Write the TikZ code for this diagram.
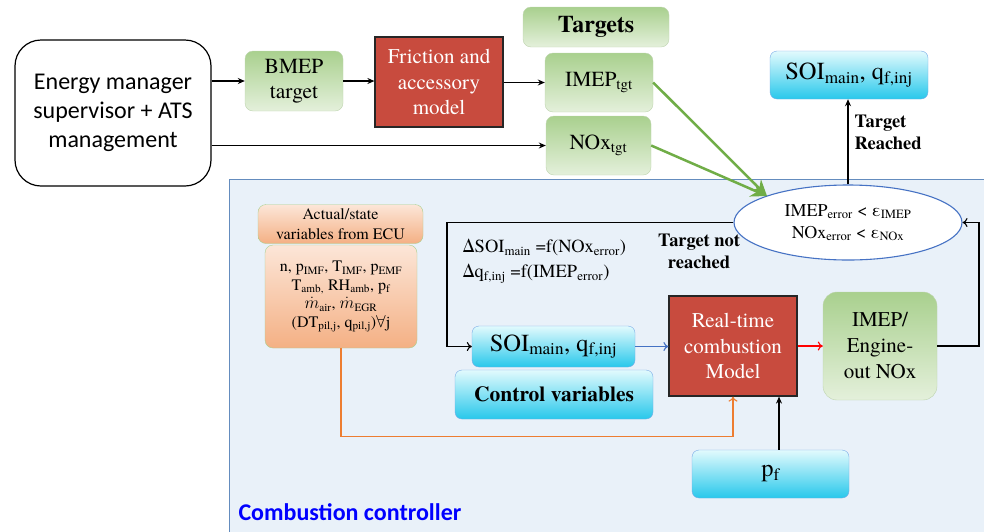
\documentclass[tikz,border=0pt]{standalone}
\usepackage{fontspec}
\setmainfont{texgyretermes}[Extension=.otf,UprightFont=*-regular,BoldFont=*-bold,ItalicFont=*-italic,BoldItalicFont=*-bolditalic]
\newfontfamily\calibri{Carlito}
\usepackage{tikz}
\usetikzlibrary{arrows.meta,shapes.geometric}

\definecolor{bgblue}{RGB}{233,241,249}
\definecolor{bgline}{RGB}{100,140,190}
\definecolor{greentop}{RGB}{169,208,142}
\definecolor{greenbot}{RGB}{228,240,219}
\definecolor{greenline}{RGB}{190,212,175}
\definecolor{cyantop}{RGB}{226,250,253}
\definecolor{cyanbot}{RGB}{40,200,235}
\definecolor{cyanline}{RGB}{120,170,230}
\definecolor{orangetop}{RGB}{252,230,216}
\definecolor{orangebot}{RGB}{244,176,132}
\definecolor{modelred}{RGB}{200,75,62}
\definecolor{ellline}{RGB}{70,114,196}
\definecolor{arrgreen}{RGB}{112,173,71}
\definecolor{arrblue}{RGB}{68,114,196}
\definecolor{arrorange}{RGB}{237,125,49}

\tikzset{
  greenbox/.style={draw=greenline,top color=greentop,bottom color=greenbot,rounded corners=8pt,
    inner sep=0pt,align=center,font=\fontsize{21.5}{25}\selectfont},
  cyanbox/.style={draw=cyanline,top color=cyantop,bottom color=cyanbot,rounded corners=7pt,
    inner sep=0pt,align=center,font=\fontsize{24.5}{28}\selectfont},
  orangebox/.style={draw=greentop,top color=orangetop,bottom color=orangebot,rounded corners=8pt,
    inner sep=0pt,align=center,font=\fontsize{16}{19.5}\selectfont},
  redbox/.style={draw=black!85,line width=1.2pt,fill=modelred,text=white,inner sep=0pt,
    align=center,font=\fontsize{21}{25.5}\selectfont},
  arr/.style={-{Stealth[length=7pt,width=6pt]},line width=1.3pt},
  openarr/.style={-{To[length=5pt,width=9pt]},line width=1.1pt},
  greenarr/.style={-{Stealth[length=16pt,width=15pt]},line width=2.5pt,draw=arrgreen},
  note/.style={font=\fontsize{18.5}{22}\selectfont\bfseries,align=center}
}

\begin{document}
\begin{tikzpicture}[x=1pt,y=-1pt]
\useasboundingbox (0,0) rectangle (984,531);
% combustion controller area
\draw[draw=bgline,fill=bgblue,line width=1pt] (229,179) rectangle (990,540);
\node[anchor=west,text=blue,font=\calibri\fontsize{24}{28}\selectfont\bfseries] (title) at (235,512) {Combustion controller};

% upper row
\node[draw,line width=1.2pt,rounded corners=26pt,minimum width=196pt,minimum height=146pt,inner sep=0pt,
  align=center,font=\calibri\fontsize{24}{29}\selectfont] (energy) at (113,113)
  {Energy manager\\supervisor + ATS\\management};
\node[greenbox,minimum width=98pt,minimum height=60pt] (bmep) at (294,81) {BMEP\\target};
\node[redbox,minimum width=128pt,minimum height=90pt] (friction) at (439,82) {Friction and\\accessory\\model};
\node[greenbox,minimum width=146pt,minimum height=40pt,font=\fontsize{24}{28}\selectfont\bfseries] (targets) at (596,27) {Targets};
\node[greenbox,minimum width=108pt,minimum height=59pt] (imep) at (599,82.5) {IMEP\textsubscript{tgt}};
\node[greenbox,minimum width=105pt,minimum height=59pt] (nox) at (598.5,145.5) {NOx\textsubscript{tgt}};
\node[cyanbox,minimum width=158pt,minimum height=48pt] (soitop) at (849,75) {SOI\textsubscript{main}, q\textsubscript{f,inj}};
\node[note,anchor=west,align=left] (reached) at (851,132) {Target\\Reached};

% controller blocks
\node[ellipse,draw=ellline,line width=1.1pt,fill=white,minimum width=228pt,minimum height=75pt,inner sep=0pt,
  align=center,font=\fontsize{18}{22}\selectfont] (check) at (848,222.5)
  {IMEP\textsubscript{error} < ε\textsubscript{IMEP}\\NOx\textsubscript{error} < ε\textsubscript{NOx}};
\node[orangebox,minimum width=165pt,minimum height=39pt] (actual) at (340.5,224) {Actual/state\\variables from ECU};
\node[orangebox,minimum width=152pt,minimum height=103pt,font=\fontsize{16}{18.5}\selectfont] (vars) at (341,296.5)
  {n, p\textsubscript{IMF}, T\textsubscript{IMF}, p\textsubscript{EMF}\\
   T\textsubscript{amb,} RH\textsubscript{amb}, p\textsubscript{f}\\
   $\dot{m}$\textsubscript{air}, $\dot{m}$\textsubscript{EGR}\\
   (DT\textsubscript{pil,j}, q\textsubscript{pil,j})$\forall$j};
\node[anchor=west,align=left,font=\fontsize{18.5}{25}\selectfont] (laws) at (459,261)
  {ΔSOI\textsubscript{main} =f(NOx\textsubscript{error})\\Δq\textsubscript{f,inj} =f(IMEP\textsubscript{error})};
\node[note] (notreached) at (699,251) {Target not\\reached};
\node[cyanbox,minimum width=163pt,minimum height=41pt] (soi) at (553.5,346.5) {SOI\textsubscript{main}, q\textsubscript{f,inj}};
\node[cyanbox,minimum width=198pt,minimum height=49pt,font=\fontsize{21.5}{25}\selectfont\bfseries] (ctrl) at (554,394.5) {Control variables};
\node[redbox,minimum width=128pt,minimum height=100pt] (model) at (733,346) {Real-time\\combustion\\Model};
\node[greenbox,minimum width=114pt,minimum height=108pt,rounded corners=14pt,font=\fontsize{21}{26}\selectfont] (out) at (880,346) {IMEP/\\Engine-\\out NOx};
\node[cyanbox,minimum width=157pt,minimum height=48pt] (pf) at (770.5,474) {p\textsubscript{f}};

% helper points
\coordinate (meet) at (767,196);
\coordinate (back) at (447,222.5);
\coordinate (loop) at (979,346);

% upper arrows
\draw[arr] (energy.east |- bmep.west) -- (bmep.west);
\draw[arr] (bmep.east) -- (bmep.east -| friction.west);
\draw[arr] (friction.east |- imep.west) -- (imep.west);
\draw[arr] (energy.east |- nox.west) -- (nox.west);
\draw[greenarr] (imep.east) -- (meet);
\draw[greenarr] (nox.east) -- (meet);
\draw[arr] (check.north) -- (check.north |- soitop.south);

% feedback loop
\draw[openarr] (check.west) -- (back) |- (soi.west);
\draw[openarr,draw=arrblue] (soi.east) -- (soi.east -| model.west);
\draw[openarr,draw=red] (model.east) -- (out.west);
\draw[openarr] (out.east) -- (loop) |- (check.east);
\draw[openarr,draw=arrorange] (vars.south) -- ++(0,88) -| (model.south);
\draw[arr] ([xshift=8.5pt]pf.north) -- ([xshift=8.5pt]pf.north |- model.south);
\end{tikzpicture}
\end{document}
